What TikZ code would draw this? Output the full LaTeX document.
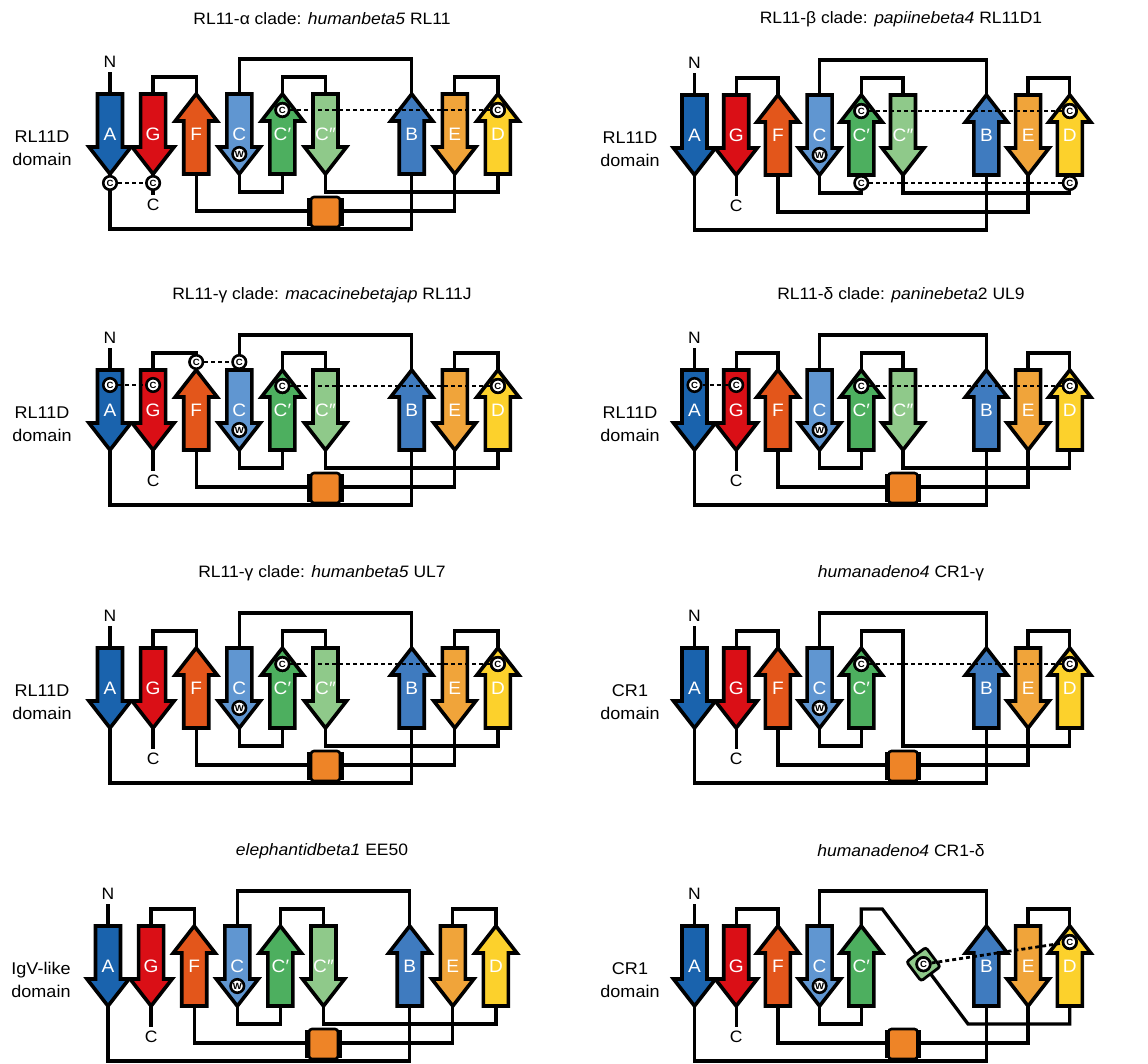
\documentclass[tikz,border=0pt]{standalone}
\usepackage{fontspec}
\setmainfont{Liberation Sans}[FakeStretch=1.06]
\usetikzlibrary{calc}
\definecolor{cA}{HTML}{1A63AD}
\definecolor{cG}{HTML}{DA0F16}
\definecolor{cF}{HTML}{E3561B}
\definecolor{cC}{HTML}{6096D1}
\definecolor{cCp}{HTML}{4DAF5F}
\definecolor{cCpp}{HTML}{8FC98A}
\definecolor{cB}{HTML}{3F7BBF}
\definecolor{cE}{HTML}{F0A43A}
\definecolor{cD}{HTML}{FCD12C}
\definecolor{cbox}{HTML}{EE8427}
\tikzset{
  strand/.style={draw=black, line width=3.6pt, line join=miter},
  slab/.style={text=white, font=\fontsize{18}{18}\selectfont, inner sep=0pt},
  conn/.style={draw=black, line width=3.3pt},
  ss/.style={draw=black, line width=2.8pt, dash pattern=on 4pt off 3pt},
  cys/.style={circle, draw=black, line width=2.6pt, fill=white, inner sep=0pt, minimum size=13.5pt, font=\fontsize{9}{9}\selectfont\bfseries, text=black},
  helix/.style={rectangle, rounded corners=3pt, fill=cbox, draw=black, line width=2.6pt, minimum width=29pt, minimum height=30pt, inner sep=0pt},
  diam/.style={rectangle, rounded corners=2.5pt, fill=cCpp, draw=black, line width=2.8pt, minimum width=24pt, minimum height=24pt, inner sep=0pt, rotate=-53},
  ttl/.style={font=\fontsize{16.5}{20}\selectfont},
  dom/.style={font=\fontsize{17}{23}\selectfont, align=center},
  term/.style={font=\fontsize{16.5}{16.5}\selectfont, inner sep=2.5pt},
}
\newcommand\dnS[4]{%
  \draw[strand,fill=#3] ({#2*\spc-12.5},0) -- ({#2*\spc+12.5},0) -- ({#2*\spc+12.5},53) -- ({#2*\spc+21},53) -- ({#2*\spc},80) -- ({#2*\spc-21},53) -- ({#2*\spc-12.5},53) -- cycle;
  \coordinate (#1t) at ({#2*\spc},0);
  \coordinate (#1b) at ({#2*\spc},80);
  \node[slab] (#1) at ({#2*\spc},40) {#4};}
\newcommand\upS[4]{%
  \draw[strand,fill=#3] ({#2*\spc},0) -- ({#2*\spc+21},27) -- ({#2*\spc+12.5},27) -- ({#2*\spc+12.5},80) -- ({#2*\spc-12.5},80) -- ({#2*\spc-12.5},27) -- ({#2*\spc-21},27) -- cycle;
  \coordinate (#1t) at ({#2*\spc},0);
  \coordinate (#1b) at ({#2*\spc},80);
  \node[slab] (#1) at ({#2*\spc},40) {#4};}
\newcommand\basestrands{%
  \dnS{A}{0}{cA}{A}
  \dnS{G}{1}{cG}{G}
  \upS{F}{2}{cF}{F}
  \dnS{C}{3}{cC}{C}
  \upS{Cp}{4}{cCp}{C′}
  \upS{B}{7}{cB}{B}
  \dnS{E}{8}{cE}{E}
  \upS{D}{9}{cD}{D}}
\newcommand\cppstrand{\dnS{Cpp}{5}{cCpp}{C″}}
\newcommand\commonconn{%
  \draw[conn] (At) -- ++(0,-22) node[term, above] (N) {N};
  \draw[conn] (Gb) -- ++(0,21) node[term, below] (Cterm) {C};
  \draw[conn] (Gt) -- ++(0,-17) -| (Ft);
  \draw[conn] (Ct) -- ++(0,-35) -| (Bt);
  \draw[conn] (Et) -- ++(0,-17) -| (Dt);
  \draw[conn] (Cb) -- ++(0,18) -| (Cpb);
  \draw[conn] (Fb) -- ++(0,37) -| (Eb);
  \draw[conn] (Ab) -- ++(0,55) -| (Bb);}
\newcommand\cppconn{%
  \draw[conn] (Cpt) -- ++(0,-17) -| (Cppt);
  \draw[conn] (Cppb) -- ++(0,18) -| (Db);}
\newcommand\helixbox[1]{%
  \node[helix] (hx) at (#1,118) {};
  \draw[line width=4.8pt] ([yshift=-2.5pt]hx.north west) -- ([yshift=2.5pt]hx.south west);
  \draw[line width=4.8pt] ([yshift=-2.5pt]hx.north east) -- ([yshift=2.5pt]hx.south east);}
\newcommand\trp{\node[cys] (W) at ({3*\spc},60) {W};}
\newcommand\cpd{%
  \node[cys] (cCp) at ({4*\spc},16) {C};
  \node[cys] (cD) at ({9*\spc},16) {C};
  \draw[ss] (cCp) -- (cD);
  \node[cys] at (cCp) {C};
  \node[cys] at (cD) {C};}
\begin{document}
\begin{tikzpicture}[x=1pt,y=-1pt]
\useasboundingbox (0,0) rectangle (1148,1064);
% ---------- titles ----------
\node[ttl] (t1) at (322,19) {RL11-α clade: \textit{humanbeta5} RL11};
\node[ttl] (t2) at (901,19) {RL11-β clade: \textit{papiinebeta4} RL11D1};
\node[ttl] (t3) at (322,295) {RL11-γ clade: \textit{macacinebetajap} RL11J};
\node[ttl] (t4) at (901,295) {RL11-δ clade: \textit{paninebeta}2 UL9};
\node[ttl] (t5) at (322,573) {RL11-γ clade: \textit{humanbeta5} UL7};
\node[ttl] (t6) at (901,573) {\textit{humanadeno4} CR1-γ};
\node[ttl] (t7) at (322,851) {\textit{elephantidbeta1} EE50};
\node[ttl] (t8) at (901,851) {\textit{humanadeno4} CR1-δ};
% ---------- domain labels ----------
\node[dom] (d1) at (42,148) {RL11D\\domain};
\node[dom] (d2) at (630,149) {RL11D\\domain};
\node[dom] (d3) at (42,424) {RL11D\\domain};
\node[dom] (d4) at (630,424) {RL11D\\domain};
\node[dom] (d5) at (42,702) {RL11D\\domain};
\node[dom] (d6) at (630,702) {CR1\\domain};
\node[dom] (d7) at (41,980) {IgV-like\\domain};
\node[dom] (d8) at (630,980) {CR1\\domain};
% ---------- panel 1 ----------
\begin{scope}[shift={(110,94)}, name prefix=p1-]
  \def\spc{43.1}
  \basestrands\cppstrand
  \commonconn\cppconn
  \helixbox{5*\spc}
  \trp\cpd
  \node[cys] (cA) at (0,89) {C};
  \node[cys] (cG) at (\spc,89) {C};
  \draw[ss] (cA) -- (cG);
\end{scope}
% ---------- panel 2 ----------
\begin{scope}[shift={(694.5,95)}, name prefix=p2-]
  \def\spc{41.7}
  \basestrands\cppstrand
  \commonconn\cppconn
  \trp\cpd
  \node[cys] (cCp2) at ({4*\spc},88) {C};
  \node[cys] (cD2) at ({9*\spc},88) {C};
  \draw[ss] (cCp2) -- (cD2);
\end{scope}
% ---------- panel 3 ----------
\begin{scope}[shift={(110,370)}, name prefix=p3-]
  \def\spc{43.1}
  \basestrands\cppstrand
  \commonconn\cppconn
  \helixbox{5*\spc}
  \trp\cpd
  \node[cys] (cA) at (0,15) {C};
  \node[cys] (cG) at (\spc,15) {C};
  \draw[ss] (cA) -- (cG);
  \node[cys] (cF) at ({2*\spc},-8) {C};
  \node[cys] (cC) at ({3*\spc},-8) {C};
  \draw[ss] (cF) -- (cC);
\end{scope}
% ---------- panel 4 ----------
\begin{scope}[shift={(694.5,370)}, name prefix=p4-]
  \def\spc{41.7}
  \basestrands\cppstrand
  \commonconn\cppconn
  \helixbox{5*\spc}
  \trp\cpd
  \node[cys] (cA) at (0,15) {C};
  \node[cys] (cG) at (\spc,15) {C};
  \draw[ss] (cA) -- (cG);
\end{scope}
% ---------- panel 5 ----------
\begin{scope}[shift={(110,648)}, name prefix=p5-]
  \def\spc{43.1}
  \basestrands\cppstrand
  \commonconn\cppconn
  \helixbox{5*\spc}
  \trp\cpd
\end{scope}
% ---------- panel 6 ----------
\begin{scope}[shift={(694.5,648)}, name prefix=p6-]
  \def\spc{41.7}
  \basestrands
  \commonconn
  \coordinate (bend) at ({5*\spc},98);
  \draw[conn] (Cpt) -- ++(0,-17) -| (bend) -| (Db);
  \helixbox{5*\spc}
  \trp\cpd
\end{scope}
% ---------- panel 7 ----------
\begin{scope}[shift={(108,926)}, name prefix=p7-]
  \def\spc{43.1}
  \basestrands\cppstrand
  \commonconn\cppconn
  \helixbox{5*\spc}
  \trp
\end{scope}
% ---------- panel 8 ----------
\begin{scope}[shift={(694.5,926)}, name prefix=p8-]
  \def\spc{41.7}
  \basestrands
  \commonconn
  \coordinate (bend) at (273.5,98);
  \draw[conn] (Cpt) -- ++(0,-17) -- ++(21,0) coordinate (k) -- (bend) -| (Db);
  \helixbox{5*\spc}
  \trp
  \node[diam] (dz) at ($(k)!0.48!(bend)$) {};
  \node[cys] (cz) at (dz) {C};
  \node[cys] (cD) at ({9*\spc},16) {C};
  \draw[ss] (cz) -- (cD);
  \node[cys] at (cz) {C};
  \node[cys] at (cD) {C};
\end{scope}
\end{tikzpicture}
\end{document}
